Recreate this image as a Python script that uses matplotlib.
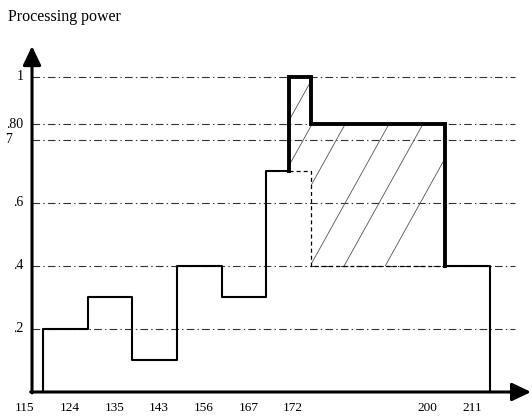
import numpy as np
import matplotlib
matplotlib.use('Agg')
import matplotlib.pyplot as plt

plt.rcParams['font.family'] = ['Liberation Serif', 'DejaVu Serif']
plt.rcParams['lines.scale_dashes'] = False

# schematic time slots (x) and processing power levels (y)
tick_pos = [0, 1, 2, 3, 4, 5, 6, 9, 10]
tick_labels = ['115', '124', '135', '143', '156', '167', '172', '200', '211']

grid_levels = [1.0, 0.85, 0.8, 0.6, 0.4, 0.2]
grid_labels = ['1', '.80', '7', '.6', '.4', '.2']

# normal load before the peak
base_x = [0.4, 0.4, 1.4, 2.4, 3.4, 4.4, 5.4, 5.9]
base_y = [0.0, 0.2, 0.3, 0.1, 0.4, 0.3, 0.7, 0.7]
# peak demand (thick)
peak_x = [5.9, 5.9, 6.4, 9.4]
peak_y = [0.7, 1.0, 0.85, 0.4]
# original load under the peak (dashed)
orig_x = [5.9, 6.4, 9.4]
orig_y = [0.7, 0.4, 0.4]
# after the peak
tail_x = [9.4, 10.4, 10.4]
tail_y = [0.4, 0.0, 0.0]

# hatched extra-demand region
extra_x = [5.9, 6.4, 9.4]
extra_top = [1.0, 0.85, 0.85]
extra_bot = [0.7, 0.4, 0.4]
hatch_at = [5.86, 6.42, 7.16, 8.14, 8.90, 9.82]   # x where each hatch line crosses 0.85

fig = plt.figure(figsize=(5.32, 4.17), dpi=100)
ax = fig.add_axes([0, 0, 1, 1])
ax.set_xlim(-0.559, 11.342)
ax.set_ylim(-0.0794, 1.2444)
ax.axis('off')

x0 = 0.157  # y-axis position
for lv in grid_levels:
    ax.plot([x0, 10.96], [lv, lv], color='#333333', lw=0.8,
            linestyle=(0, (5.5, 2.3, 1.0, 2.3)), zorder=1)

# hatch
fb = ax.fill_between(extra_x, extra_bot, extra_top, step='post',
                     facecolor='none', edgecolor='none', lw=0)
clip = fb.get_paths()[0]
for c in hatch_at:
    vv = np.array([0.3, 1.1])
    ln, = ax.plot(c + (vv - 0.85) * 3.915, vv, color='#555555', lw=0.6, zorder=2)
    ln.set_clip_path(clip, ax.transData)

ax.plot(base_x, base_y, drawstyle='steps-post', color='black', lw=1.5, zorder=3)
ax.plot(tail_x, tail_y, drawstyle='steps-post', color='black', lw=1.5, zorder=3)
ax.plot(orig_x, orig_y, drawstyle='steps-post', color='black', lw=0.9,
        linestyle=(0, (2.9, 2.2)), zorder=3)
ax.plot(peak_x, peak_y, drawstyle='steps-post', color='black', lw=2.8,
        solid_joinstyle='miter', zorder=4)

# axes with arrows
arrow = dict(arrowstyle='-|>,head_length=1.15,head_width=0.55', lw=2.2,
             color='black', mutation_scale=10, shrinkA=0, shrinkB=0)
ax.annotate('', xy=(x0, 1.098), xytext=(x0, -0.003), arrowprops=arrow)
ax.annotate('', xy=(11.32, 0.0), xytext=(x0 - 0.03, 0.0), arrowprops=arrow)

for p, t in zip(tick_pos, tick_labels):
    ax.text(p, -0.051, t, ha='center', va='center', fontsize=9.5)
for lv, t in zip(grid_levels, grid_labels):
    if t == '7':
        ax.text(-0.447, lv, t, ha='left', va='center', fontsize=10)
    else:
        ax.text(-0.03, lv, t, ha='right', va='center', fontsize=10)

ax.text(-0.38, 1.19, 'Processing power', ha='left', va='center', fontsize=11.5)

fig.savefig('out.png', dpi=100)
